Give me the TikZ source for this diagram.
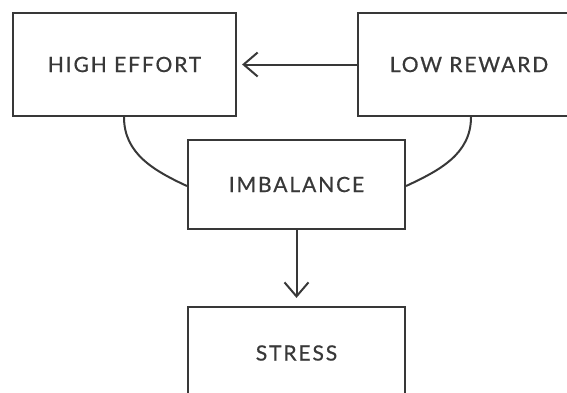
\documentclass[tikz,border=0pt]{standalone}
\usepackage{fontspec}
\setmainfont{Lato}[LetterSpace=9, FakeBold=0.6]
\usetikzlibrary{arrows.meta}
\definecolor{ink}{HTML}{383838}
\tikzset{
  box/.style={draw=ink, line width=2.2pt, fill=white, text=ink,
    font=\fontsize{21}{25}\selectfont, inner sep=0pt, anchor=center},
  link/.style={draw=ink, line width=2pt},
  flow/.style={link, -{Straight Barb[length=14pt,width=24pt,line width=2pt]}}
}
\begin{document}
\begin{tikzpicture}[x=1pt,y=-1pt]
  \useasboundingbox (0,0) rectangle (567,392);
  \begin{scope}
    \clip (0,0) rectangle (567,392);
    \node[box, minimum width=223pt, minimum height=103pt] (effort) at (124.5,64.5) {HIGH EFFORT};
    \node[box, minimum width=222pt, minimum height=103pt] (reward) at (469,64.5) {LOW REWARD};
    \node[box, minimum width=217pt, minimum height=89pt] (imbalance) at (296.5,184.5) {IMBALANCE};
    \node[box, minimum width=217pt, minimum height=92pt] (stress) at (296.5,353) {STRESS};
    % coordinates where the two arcs leave the upper boxes
    \coordinate (effortfoot) at ([xshift=-0.5pt]effort.south);
    \coordinate (rewardfoot) at ([xshift=2pt]reward.south);
    \draw[link] (effortfoot) to[out=-90, in=155] ([yshift=-1.5pt]imbalance.west);
    \draw[link] (rewardfoot) to[out=-90, in=25] ([yshift=-1.5pt]imbalance.east);
    \draw[flow, shorten >=5pt] (reward.west) -- (effort.east);
    \draw[flow, shorten >=8pt] (imbalance.south) -- (stress.north);
  \end{scope}
\end{tikzpicture}
\end{document}
